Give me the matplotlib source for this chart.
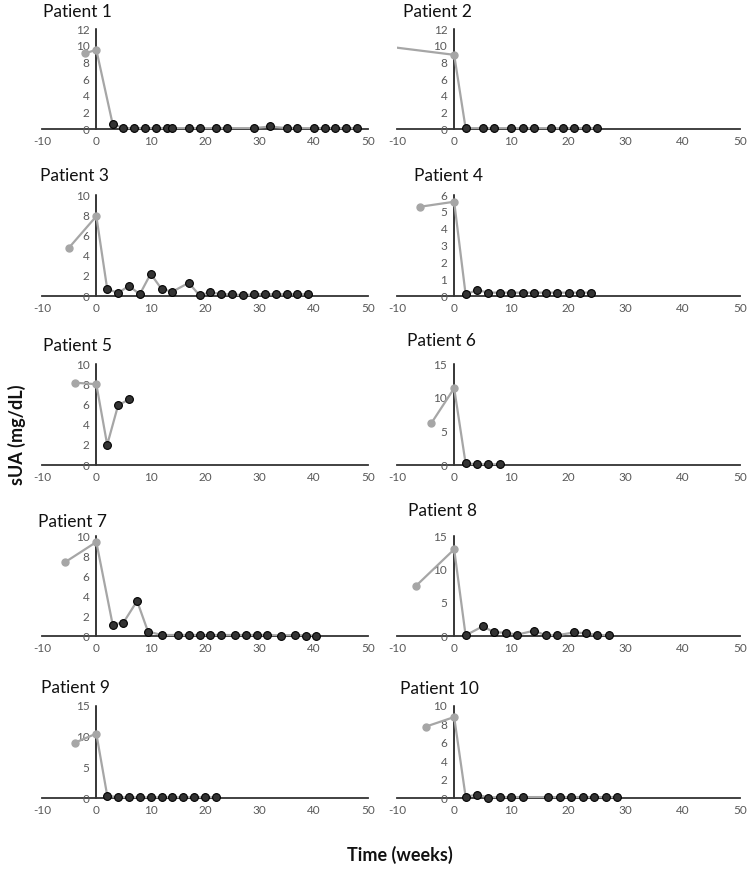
import matplotlib.pyplot as plt
import numpy as np

patients = ['Patient 1', 'Patient 2', 'Patient 3', 'Patient 4', 'Patient 5',
            'Patient 6', 'Patient 7', 'Patient 8', 'Patient 9', 'Patient 10']

# before treatment (grey points)
pre_weeks = [[-2, 0], [-14, 0], [-5, 0], [-6, 0], [-4, 0],
             [-4, 0], [-5.7, 0], [-6.7, 0], [-4, 0], [-5, 0]]
pre_sua = [[9.1, 9.5], [10.1, 8.9], [4.8, 7.9], [5.3, 5.6], [8.15, 8.0],
           [6.2, 11.4], [7.4, 9.4], [7.5, 13.0], [9.0, 10.5], [7.75, 8.8]]

# during treatment (dark points)
post_weeks = [
    [3, 5, 7, 9, 11, 13, 14, 17, 19, 22, 24, 29, 32, 35, 37, 40, 42, 44, 46, 48],
    [2, 5, 7, 10, 12, 14, 17, 19, 21, 23, 25],
    [2, 4, 6, 8, 10, 12, 14, 17, 19, 21, 23, 25, 27, 29, 31, 33, 35, 37, 39],
    [2, 4, 6, 8, 10, 12, 14, 16, 18, 20, 22, 24],
    [2, 4, 6],
    [2, 4, 6, 8],
    [3, 5, 7.5, 9.5, 12, 15, 17, 19, 21, 23, 25.5, 27.5, 29.5, 31.5, 34, 36.5, 38.5, 40.5],
    [2, 5, 7, 9, 11, 14, 16, 18, 21, 23, 25, 27],
    [2, 4, 6, 8, 10, 12, 14, 16, 18, 20, 22],
    [2, 4, 6, 8, 10, 12, 16.5, 18.5, 20.5, 22.5, 24.5, 26.5, 28.5],
]
post_sua = [
    [0.6, 0.1, 0.1, 0.1, 0.1, 0.1, 0.1, 0.1, 0.1, 0.1, 0.1, 0.1, 0.3, 0.1, 0.1, 0.1, 0.1, 0.1, 0.1, 0.1],
    [0.1, 0.1, 0.1, 0.1, 0.1, 0.1, 0.1, 0.1, 0.1, 0.1, 0.1],
    [0.7, 0.3, 1.0, 0.17, 2.2, 0.7, 0.43, 1.3, 0.07, 0.37, 0.17, 0.17, 0.07, 0.17, 0.17, 0.17, 0.17, 0.17, 0.17],
    [0.1, 0.35, 0.2, 0.2, 0.2, 0.2, 0.2, 0.2, 0.2, 0.2, 0.2, 0.2],
    [2.0, 5.9, 6.5],
    [0.25, 0.1, 0.1, 0.1],
    [1.15, 1.35, 3.5, 0.45, 0.1, 0.1, 0.1, 0.1, 0.1, 0.1, 0.1, 0.1, 0.1, 0.1, 0.05, 0.1, 0.05, 0.05],
    [0.1, 1.45, 0.55, 0.5, 0.2, 0.8, 0.1, 0.1, 0.55, 0.4, 0.15, 0.1],
    [0.4, 0.1, 0.1, 0.1, 0.1, 0.1, 0.1, 0.1, 0.1, 0.1, 0.1],
    [0.15, 0.35, 0.05, 0.1, 0.1, 0.1, 0.1, 0.1, 0.1, 0.1, 0.1, 0.1, 0.1],
]

y_max = [12, 12, 10, 6, 10, 15, 10, 15, 15, 10]
y_step = [2, 2, 2, 1, 2, 5, 2, 5, 5, 2]

plt.rcParams['font.family'] = ['Lato', 'DejaVu Sans']
plt.rcParams['axes.unicode_minus'] = False

W, H = 755, 871
fig = plt.figure(figsize=(W / 100, H / 100), dpi=100)

# pixel layout: columns (left, right) and rows (top, zero line)
cols = [(42, 368), (397, 740)]
rows = [(29, 129), (195, 296), (364, 465), (536, 636), (706, 798)]
title_pos = [(43, 12), (403, 12), (40, 176), (414, 176), (43, 346),
             (407, 341), (38, 522), (408, 511), (41, 688), (400, 689)]

grey = '#a6a6a6'
dark = '#333333'

for i in range(10):
    c0, c1 = cols[i % 2]
    r0, r1 = rows[i // 2]
    ax = fig.add_axes([c0 / W, 1 - r1 / H, (c1 - c0) / W, (r1 - r0) / H])

    wx = pre_weeks[i] + post_weeks[i]
    wy = pre_sua[i] + post_sua[i]
    ax.plot(wx, wy, color=grey, lw=1.6, zorder=2)

    px = np.array(pre_weeks[i])
    py = np.array(pre_sua[i])
    keep = px >= -10
    ax.plot(px[keep], py[keep], 'o', color=grey, ms=5, mec=grey,
            clip_on=False, zorder=3)
    ax.plot(post_weeks[i], post_sua[i], 'o', color=dark, ms=5.6, mec='black',
            mew=0.8, clip_on=False, zorder=4)

    ax.set_xlim(-10, 50)
    ax.set_ylim(0, y_max[i])
    ax.set_xticks(range(-10, 51, 10))
    ax.set_yticks(np.arange(0, y_max[i] + 0.1, y_step[i]))

    ax.spines['left'].set_position(('data', 0))
    ax.spines['top'].set_visible(False)
    ax.spines['right'].set_visible(False)
    ax.spines['left'].set_color('black')
    ax.spines['bottom'].set_color('#333333')
    ax.spines['left'].set_linewidth(1.1)
    ax.spines['bottom'].set_linewidth(1.3)
    ax.spines['left'].set_zorder(1)
    ax.spines['bottom'].set_zorder(1)
    ax.tick_params(length=0, labelsize=8.5, labelcolor='#595959')
    ax.tick_params(axis='x', pad=5)
    ax.tick_params(axis='y', pad=5)
    ax.patch.set_visible(False)

    tx, ty = title_pos[i]
    fig.text(tx / W, 1 - ty / H, patients[i], fontsize=12.5, color='#111111',
             ha='left', va='center')

fig.text(17 / W, 1 - 435 / H, 'sUA (mg/dL)', rotation=90, fontsize=13,
         fontweight='bold', ha='center', va='center', color='#111111')
fig.text(400 / W, 1 - 855 / H, 'Time (weeks)', fontsize=13,
         fontweight='bold', ha='center', va='center', color='#111111')

fig.savefig('out.png', dpi=100)
